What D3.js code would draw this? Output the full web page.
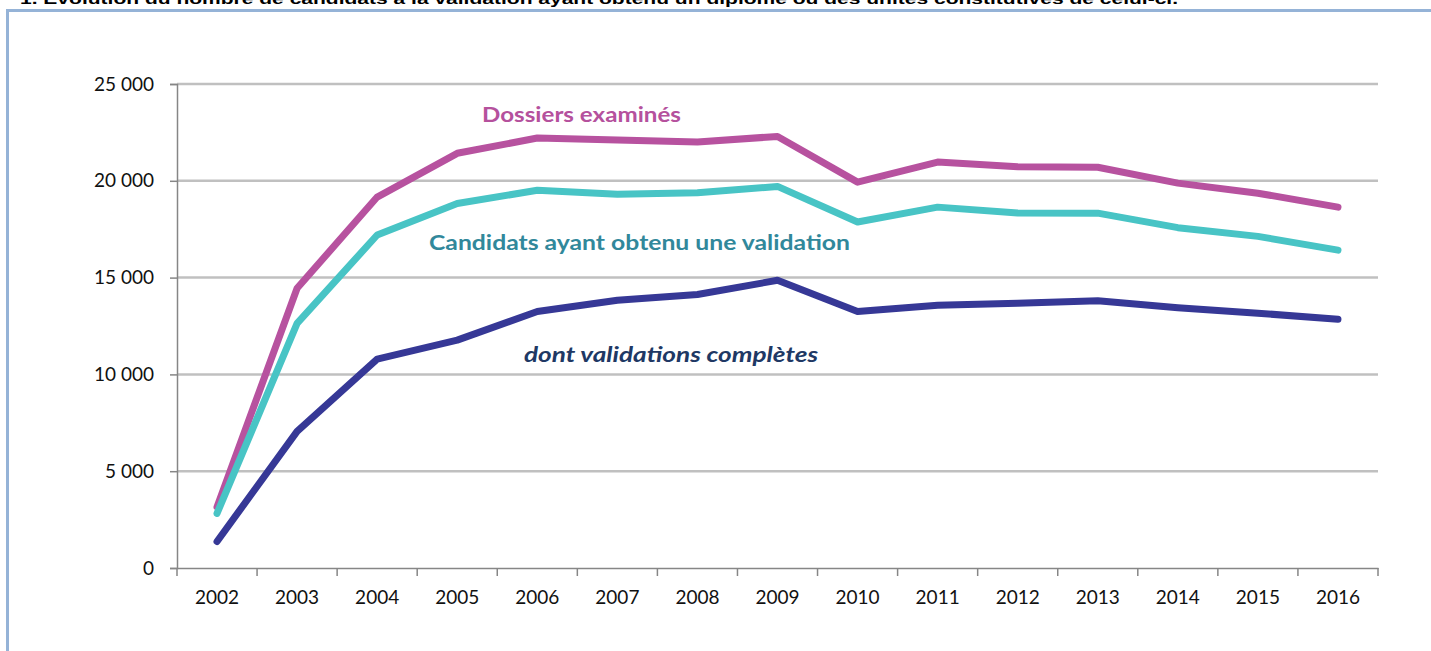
<!DOCTYPE html>
<html>
<head>
<meta charset="utf-8">
<script src="https://cdn.jsdelivr.net/npm/d3@7"></script>
<style>
  body { margin: 0; background: #fff; }
  svg { display: block; }
</style>
</head>
<body>
<div id="chart"></div>
<script>
// data
let years = ["2002","2003","2004","2005","2006","2007","2008","2009","2010","2011","2012","2013","2014","2015","2016"];
let dossiers = [3150,14450,19160,21420,22210,22110,22010,22290,19930,20970,20730,20700,19880,19360,18640];
let candidats = [2820,12640,17200,18830,19510,19310,19380,19710,17870,18640,18340,18330,17580,17130,16420];
let completes = [1370,7060,10790,11770,13250,13830,14130,14860,13250,13570,13680,13800,13440,13160,12850];
let yTicks = [0,5000,10000,15000,20000,25000];
let seriesNames = ["Dossiers examinés","Candidats ayant obtenu une validation","dont validations complètes"];
let titleText = "1. Evolution du nombre de candidats à la validation ayant obtenu un diplôme ou des unités constitutives de celui-ci.";

let width = 1431, height = 651;
let margin = {left: 177, right: 53, top: 84, bottom: 83};

let svg = d3.select("#chart").append("svg")
  .attr("width", width)
  .attr("height", height);

// frame of the report box (title is cut by the top edge, as in the scan)
svg.append("text")
  .attr("x", 20).attr("y", 4)
  .attr("textLength", 1158).attr("lengthAdjust", "spacingAndGlyphs")
  .style("font", "bold 15px 'Liberation Sans', Arial, sans-serif")
  .style("fill", "#000")
  .text(titleText);
svg.append("line").attr("x1", 6).attr("x2", width).attr("y1", 10.5).attr("y2", 10.5)
  .style("stroke", "#95b3d7").style("stroke-width", 3);
svg.append("line").attr("x1", 7.5).attr("x2", 7.5).attr("y1", 9).attr("y2", height)
  .style("stroke", "#95b3d7").style("stroke-width", 3);

let x = d3.scaleBand().domain(years).range([margin.left, width - margin.right]);
let y = d3.scaleLinear().domain([0, 25000]).range([height - margin.bottom, margin.top]);

let fmt = v => d3.format(",")(v).replace(/,/g, " ");
let tickFont = "19px Lato, 'Open Sans', sans-serif";

// gridlines
svg.selectAll(".grid").data(yTicks.filter(d => d > 0)).enter().append("line")
  .attr("class", "grid")
  .attr("x1", margin.left).attr("x2", width - margin.right)
  .attr("y1", d => y(d)).attr("y2", d => y(d))
  .style("stroke", "#c0c0c0").style("stroke-width", 2.5);

// y axis
let yAxis = svg.append("g")
  .attr("transform", "translate(" + margin.left + ",0)")
  .call(d3.axisLeft(y).tickValues(yTicks).tickFormat(fmt).tickSize(7).tickPadding(16));
yAxis.select(".domain").style("stroke", "#868686").style("stroke-width", 1.5);
yAxis.selectAll(".tick line").style("stroke", "#868686").style("stroke-width", 1.5);
yAxis.selectAll("text").style("font", tickFont).style("fill", "#111");

// x axis, ticks between categories
let xAxis = svg.append("g")
  .attr("transform", "translate(0," + y(0) + ")")
  .call(d3.axisBottom(x).tickSize(0).tickPadding(23));
xAxis.select(".domain").style("stroke", "#868686").style("stroke-width", 1.5);
xAxis.selectAll("text").style("font", tickFont).style("fill", "#111");
xAxis.selectAll(".sep").data(years.concat(["end"])).enter().append("line")
  .attr("class", "sep")
  .attr("x1", (d, i) => margin.left + i * x.step())
  .attr("x2", (d, i) => margin.left + i * x.step())
  .attr("y1", 0).attr("y2", 8)
  .style("stroke", "#868686").style("stroke-width", 1.5);

// lines
let series = [
  {values: dossiers, color: "#b7529f"},
  {values: candidats, color: "#48c4c5"},
  {values: completes, color: "#363896"}
];
let line = d3.line()
  .x((d, i) => x(years[i]) + x.bandwidth() / 2)
  .y(d => y(d));
svg.selectAll(".series").data(series).enter().append("path")
  .attr("class", "series")
  .attr("d", d => line(d.values))
  .style("fill", "none")
  .style("stroke", d => d.color)
  .style("stroke-width", 7)
  .style("stroke-linecap", "round")
  .style("stroke-linejoin", "round");

// labels on the chart
let labels = [
  {text: seriesNames[0], x: 482, y: 122, w: 199, color: "#b5519d", italic: false},
  {text: seriesNames[1], x: 429, y: 250, w: 421, color: "#31889b", italic: false},
  {text: seriesNames[2], x: 524, y: 362, w: 294, color: "#203864", italic: true}
];
svg.selectAll(".lab").data(labels).enter().append("text")
  .attr("class", "lab")
  .attr("x", d => d.x).attr("y", d => d.y)
  .attr("textLength", d => d.w).attr("lengthAdjust", "spacingAndGlyphs")
  .style("font-family", "Lato, 'Open Sans', sans-serif")
  .style("font-weight", "bold")
  .style("font-style", d => d.italic ? "italic" : "normal")
  .style("font-size", "21px")
  .style("fill", d => d.color)
  .text(d => d.text);
</script>
</body>
</html>
